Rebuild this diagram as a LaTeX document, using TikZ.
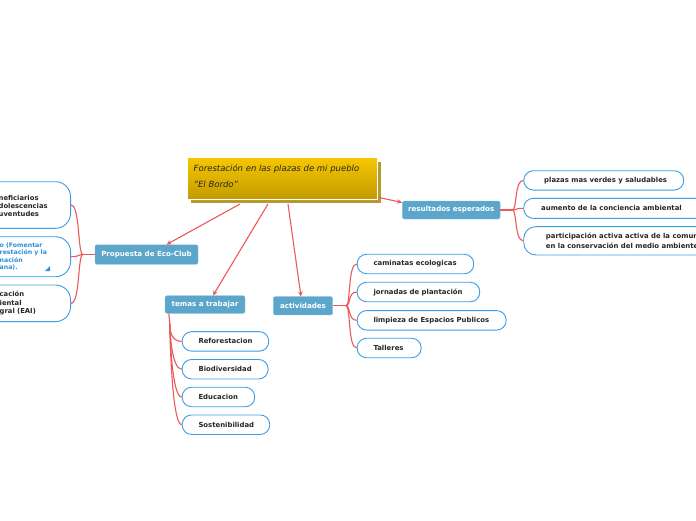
\documentclass[tikz,border=0pt]{standalone}
\usepackage{fontspec}
\setmainfont{DejaVu Sans}
\usetikzlibrary{arrows.meta,calc}
\definecolor{topicblue}{HTML}{5CA6CB}
\definecolor{leafborder}{HTML}{3C9DE3}
\definecolor{leafbluetext}{HTML}{2E8FD8}
\definecolor{linkred}{HTML}{EB5A5A}
\definecolor{goldtop}{HTML}{F6C700}
\definecolor{goldbottom}{HTML}{C29A00}
\definecolor{shadowgold}{HTML}{B79A2E}
\begin{document}
\begin{tikzpicture}[x=1pt,y=-1pt,
  topic/.style={fill=topicblue, draw=topicblue!70!white, line width=0.4pt, rounded corners=2pt, text=white,
    font=\fontsize{7.1}{8}\selectfont\bfseries, inner sep=0pt},
  leaf/.style={draw=leafborder, line width=0.9pt, fill=white, rounded corners=9.5pt, inner sep=0pt, anchor=west},
  leaftext/.style={font=\fontsize{6.9}{8}\selectfont\bfseries, text=black!85, inner sep=0pt, anchor=west, align=left},
  link/.style={draw=linkred, line width=1.1pt},
  arrowlink/.style={link, -{Stealth[length=5pt,width=4.5pt]}},
]
\useasboundingbox[fill=white] (0,0) rectangle (696,520);

% central topic
\node[draw=white, line width=0.8pt, fill=shadowgold, minimum width=190.6pt, minimum height=42pt,
  inner sep=0pt, anchor=north west] (shadow) at (190,160.5) {};
\node[draw=white, line width=0.8pt, top color=goldtop, bottom color=goldbottom, minimum width=190.6pt,
  minimum height=42pt, anchor=north west, inner sep=0pt] (central) at (186.7,157.3) {};
\node[anchor=west, align=left, inner sep=0pt, text=black!85,
  font=\fontsize{8.5}{16}\selectfont\itshape] (title) at (193.5,176.5)
  {Forestación en las plazas de mi pueblo\\"El Bordo"};

% main topics
\node[topic, minimum width=103pt, minimum height=19.5pt] (prop) at (146.5,254.5) {Propuesta de Eco-Club};
\node[topic, minimum width=80pt, minimum height=17.6pt] (temas) at (205,304.5) {temas a trabajar};
\node[topic, minimum width=59.4pt, minimum height=18.3pt] (act) at (303,305.8) {actividades};
\node[topic, minimum width=97.7pt, minimum height=18pt] (res) at (451.2,210) {resultados esperados};

% arrows from central
\coordinate (c1) at (240,204);
\coordinate (c2) at (268,204);
\coordinate (c3) at (288,204);
\coordinate (c4) at (379,197.5);
\draw[arrowlink] (c1) -- ($(prop.north)+(20,0)$);
\draw[arrowlink] (c2) -- ($(temas.north)+(8,0)$);
\draw[arrowlink] (c3) -- ($(act.north)+(-2,0)$);
\draw[arrowlink] (c4) -- ($(res.west)+(0,-7.5)$);

% left subtopics (cut by the page edge)
\node[leaf, anchor=east, rounded corners=15pt, minimum width=130pt, minimum height=46.6pt] (l1) at (71,205) {};
\node[leaf, anchor=east, rounded corners=15pt, minimum width=130pt, minimum height=40pt] (l2) at (71,256.7) {};
\node[leaf, anchor=east, rounded corners=15pt, minimum width=130pt, minimum height=36.6pt] (l3) at (71,303.3) {};
\node[leaftext, font=\fontsize{6.8}{8.3}\selectfont\bfseries] (l1t) at (-1.5,206) {neficiarios\\dolescencias\\uventudes};
\node[leaftext, text=leafbluetext, font=\fontsize{6.2}{7.4}\selectfont\bfseries] (l2t) at (-0.5,256.7) {o (Fomentar\\restación y la\\nación\\ana).};
\node[leaftext, font=\fontsize{6.8}{8.3}\selectfont\bfseries] (l3t) at (-0.5,303.3) {cación\\iental\\gral (EAI)};
\fill[leafbluetext] (45,271) -- (50,271) -- (50,266) -- cycle;

\coordinate (pj) at ($(prop.west)+(-12,0)$);
\draw[link] (prop.west) -- (pj);
\foreach \n in {l1,l2,l3}
  \draw[link] (pj) .. controls ($(pj)+(-5,0)$) and ($(\n.east)+(9,0)$) .. (\n.east);

% resultados esperados
\node[leaf, minimum width=160pt, minimum height=19.3pt] (r1) at (523.3,180.4) {};
\node[leaf, minimum width=185pt, minimum height=20pt] (r2) at (523.3,208.3) {};
\node[leaf, rounded corners=12pt, minimum width=185pt, minimum height=28.3pt] (r3) at (523.3,240.8) {};
\node[leaftext] (r1t) at (544,180.4) {plazas mas verdes y saludables};
\node[leaftext] (r2t) at (541,208.3) {aumento de la conciencia ambiental};
\node[leaftext, font=\fontsize{6.9}{9.3}\selectfont\bfseries] (r3t) at (545.7,240.8)
  {participación activa activa de la comunidad\\en la conservación del medio ambiente};
\coordinate (rj) at ($(res.east)+(12,0)$);
\draw[link] (res.east) -- (rj);
\foreach \n in {r1,r2,r3}
  \draw[link] (rj) .. controls ($(rj)+(5,0)$) and ($(\n.west)+(-9,0)$) .. (\n.west);

% actividades
\node[leaf, minimum width=116.6pt, minimum height=19.5pt] (a1) at (356.7,264) {};
\node[leaf, minimum width=122.6pt, minimum height=19.5pt] (a2) at (356.7,292) {};
\node[leaf, minimum width=149pt, minimum height=19.5pt] (a3) at (356.7,320.3) {};
\node[leaf, minimum width=64pt, minimum height=19.5pt] (a4) at (356.7,348) {};
\node[leaftext] (a1t) at (373.3,264) {caminatas ecologicas};
\node[leaftext] (a2t) at (373.3,292) {jornadas de plantación};
\node[leaftext] (a3t) at (373.3,320.3) {limpieza de Espacios Publicos};
\node[leaftext] (a4t) at (373.3,348) {Talleres};
\coordinate (aj) at ($(act.east)+(13,0)$);
\draw[link] (act.east) -- (aj);
\foreach \n in {a1,a2,a3,a4}
  \draw[link] (aj) .. controls ($(aj)+(5,0)$) and ($(\n.west)+(-9,0)$) .. (\n.west);

% temas a trabajar
\node[leaf, minimum width=86.6pt, minimum height=19.5pt] (t1) at (181.7,341.4) {};
\node[leaf, minimum width=86pt, minimum height=19.5pt] (t2) at (181.7,369.2) {};
\node[leaf, minimum width=72.6pt, minimum height=19.5pt] (t3) at (181.7,397) {};
\node[leaf, minimum width=87.6pt, minimum height=19.5pt] (t4) at (181.7,424.7) {};
\node[leaftext] (t1t) at (198.3,341.4) {Reforestacion};
\node[leaftext] (t2t) at (198.3,369.2) {Biodiversidad};
\node[leaftext] (t3t) at (198.3,397) {Educacion};
\node[leaftext] (t4t) at (198.3,424.7) {Sostenibilidad};
\coordinate (ts) at ($(temas.south west)+(4,0)$);
\coordinate (tj) at ($(ts)+(1,10)$);
\draw[link] (ts) -- (tj);
\foreach \n in {t1,t2,t3,t4}
  \draw[link] (tj) .. controls ($(tj)+(0,8)$) and ($(\n.west)+(-10,0)$) .. (\n.west);
\end{tikzpicture}
\end{document}
